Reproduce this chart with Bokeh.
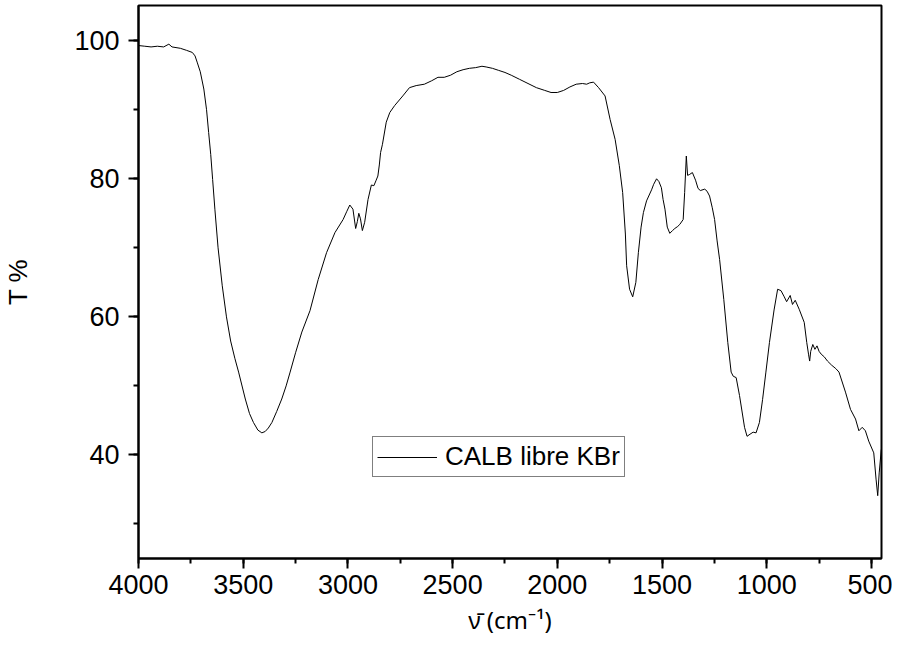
from bokeh.plotting import figure
from bokeh.models import (Range1d, LinearAxis, SingleIntervalTicker,
                          Legend, LegendItem, ColumnDataSource)
from bokeh.embed import file_html
from bokeh.resources import INLINE

# ---- data ----
wavenumber = [4000, 3970, 3940, 3910, 3880, 3855, 3840, 3800, 3770, 3743, 3730, 3720,
              3705, 3688, 3675, 3665, 3655, 3646, 3635, 3620, 3600, 3580, 3560, 3540,
              3522, 3490, 3470, 3451, 3430, 3411, 3395, 3380, 3363, 3340, 3316, 3295,
              3276, 3250, 3220, 3181, 3142, 3102, 3062, 3023, 3005, 2991, 2976, 2963,
              2955, 2948, 2940, 2931, 2920, 2904, 2888, 2876, 2865, 2857, 2850, 2844,
              2835, 2817, 2800, 2777, 2738, 2706, 2674, 2635, 2600, 2570, 2540, 2510,
              2480, 2450, 2420, 2390, 2360, 2340, 2310, 2280, 2250, 2220, 2180, 2140,
              2100, 2060, 2030, 2000, 1970, 1940, 1910, 1880, 1860, 1845, 1827, 1803,
              1772, 1748, 1724, 1704, 1688, 1675, 1669, 1655, 1640, 1625, 1613, 1600,
              1589, 1574, 1550, 1540, 1526, 1515, 1503, 1495, 1486, 1475, 1463, 1450,
              1439, 1425, 1415, 1399, 1392, 1384, 1378, 1370, 1355, 1340, 1328, 1317,
              1296, 1285, 1273, 1260, 1249, 1237, 1225, 1205, 1186, 1170, 1160, 1146,
              1130, 1106, 1094, 1080, 1065, 1051, 1035, 1020, 1004, 987, 965, 948,
              932, 918, 905, 888, 877, 864, 845, 821, 809, 800, 795, 790, 780, 770,
              760, 750, 740, 725, 710, 690, 670, 655, 624, 600, 576, 560, 544, 529,
              513, 489, 478, 470, 463, 453]
transmittance = [99.3, 99.2, 99.1, 99.2, 99.1, 99.5, 99.1, 98.9, 98.6, 98.3, 97.8, 96.9,
                 95.5, 93.0, 90.0, 86.7, 83.5, 79.9, 75.5, 70.0, 64.5, 60.0, 56.5, 54.0,
                 52.0, 48.1, 46.0, 44.7, 43.6, 43.2, 43.4, 43.9, 44.7, 46.3, 48.1, 50.0,
                 52.0, 54.8, 57.8, 60.9, 65.4, 69.3, 72.2, 74.1, 75.3, 76.2, 75.6, 72.8,
                 73.8, 75.0, 74.2, 72.5, 73.7, 77.0, 79.1, 79.0, 79.8, 80.4, 82.0, 83.8,
                 85.0, 88.2, 89.6, 90.6, 92.0, 93.2, 93.5, 93.7, 94.2, 94.7, 94.7, 95.0,
                 95.5, 95.8, 96.0, 96.1, 96.3, 96.2, 96.0, 95.7, 95.4, 95.0, 94.4, 93.8,
                 93.2, 92.8, 92.5, 92.5, 92.8, 93.3, 93.7, 93.8, 93.7, 93.9, 94.0, 93.2,
                 92.0, 88.6, 85.7, 81.9, 78.0, 72.0, 67.4, 64.0, 62.9, 65.0, 69.3, 73.0,
                 75.1, 76.8, 78.4, 79.2, 80.0, 79.6, 78.7, 77.0, 75.6, 73.0, 72.1, 72.5,
                 72.8, 73.1, 73.4, 74.1, 78.0, 83.3, 80.5, 80.6, 80.9, 79.8, 78.6, 78.3,
                 78.5, 78.2, 77.5, 75.8, 74.1, 71.0, 68.3, 62.5, 56.3, 52.0, 51.4, 51.2,
                 48.6, 44.0, 42.7, 43.0, 43.3, 43.2, 44.7, 48.0, 52.0, 56.3, 61.0, 64.0,
                 63.8, 63.0, 62.2, 63.1, 61.8, 62.4, 61.1, 59.2, 56.3, 54.5, 53.6, 55.0,
                 56.0, 55.3, 55.8, 55.0, 54.6, 54.2, 53.6, 53.0, 52.5, 52.0, 49.1, 46.6,
                 45.2, 43.5, 44.0, 43.5, 42.0, 40.3, 36.5, 34.1, 37.4, 40.8]
series_label = "CALB libre KBr"
x_title = "\u03bd\u0304 (cm\u207b\u00b9)"
y_title = "T %"

FONT = "Liberation Sans"

src = ColumnDataSource(data=dict(x=wavenumber, y=transmittance))

p = figure(width=892, height=650, output_backend="svg", toolbar_location=None,
           x_range=Range1d(4000, 452), y_range=Range1d(25, 105.1),
           min_border_left=135, min_border_top=5, min_border_right=11,
           min_border_bottom=92, x_axis_location=None, y_axis_location=None)
p.xgrid.visible = False
p.ygrid.visible = False
p.outline_line_color = "black"
p.outline_line_width = 2
p.background_fill_color = "white"
p.border_fill_color = "white"

r = p.line("x", "y", source=src, line_color="black", line_width=1)

# bottom axis
xa = LinearAxis(ticker=SingleIntervalTicker(interval=500, num_minor_ticks=2),
                axis_label=x_title)
# left axis
ya = LinearAxis(ticker=SingleIntervalTicker(interval=20, num_minor_ticks=2),
                axis_label=y_title)
for ax in (xa, ya):
    ax.axis_line_width = 2
    ax.axis_line_color = "black"
    ax.major_tick_line_width = 2
    ax.minor_tick_line_width = 2
    ax.major_tick_in = 0
    ax.minor_tick_in = 0
    ax.major_tick_out = 10
    ax.minor_tick_out = 5
    ax.major_label_text_font = FONT
    ax.major_label_text_font_size = "27px"
    ax.major_label_text_color = "black"
    ax.axis_label_text_font = FONT
    ax.axis_label_text_font_size = "26px"
    ax.axis_label_text_font_style = "normal"
    ax.axis_label_text_color = "black"
xa.axis_label_text_font = "Noto Sans"
xa.axis_label_text_font_size = "24px"
xa.major_label_standoff = 6
xa.axis_label_standoff = 6
ya.major_label_standoff = 9
ya.axis_label_standoff = 38
p.add_layout(xa, "below")
p.add_layout(ya, "left")

legend = Legend(items=[LegendItem(label=series_label, renderers=[r])],
                location=(234, 81), orientation="vertical")
legend.border_line_color = "black"
legend.border_line_width = 1
legend.background_fill_color = "white"
legend.background_fill_alpha = 1
legend.padding = 4
legend.margin = 0
legend.spacing = 0
legend.glyph_width = 60
legend.glyph_height = 20
legend.label_standoff = 8
legend.label_height = 20
legend.label_text_font = FONT
legend.label_text_font_size = "26px"
legend.label_text_line_height = 1.0
legend.label_text_color = "black"
p.add_layout(legend)

open("out.html", "w").write(file_html(p, INLINE))
